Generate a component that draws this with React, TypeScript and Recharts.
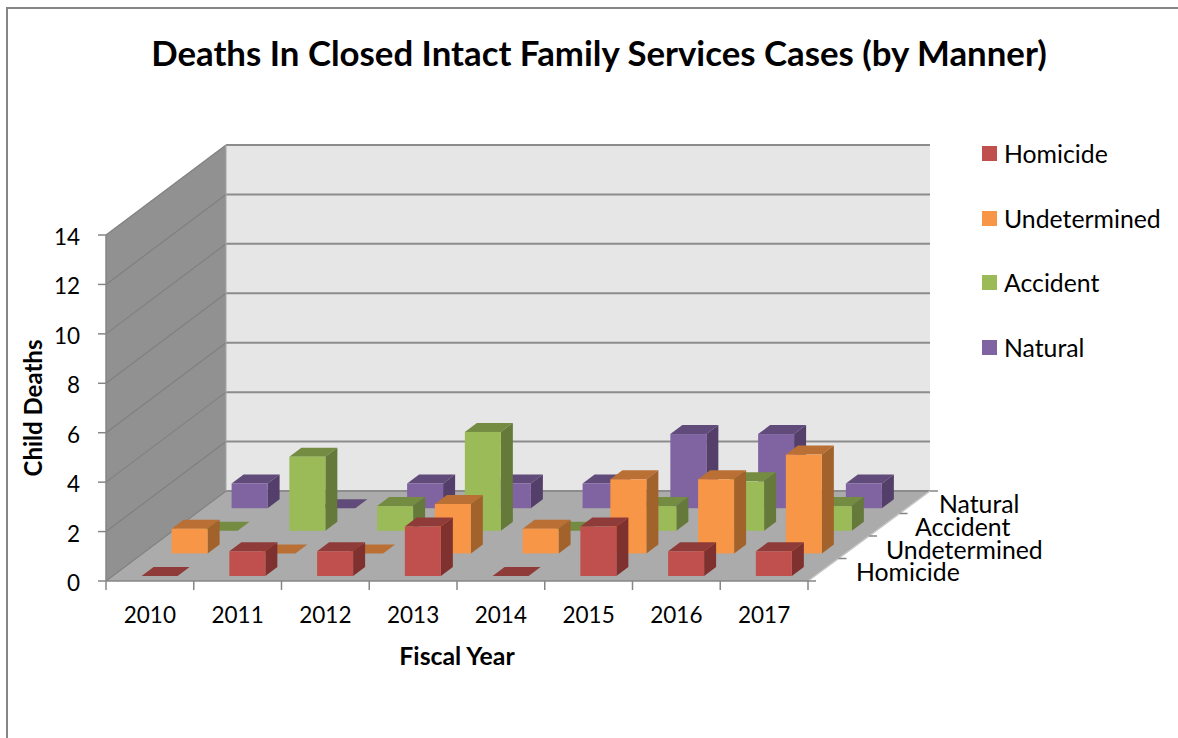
import { BarChart, Bar, XAxis, YAxis, Legend, usePlotArea } from 'recharts';

const years = ['2010', '2011', '2012', '2013', '2014', '2015', '2016', '2017'];
const homicide = [0, 1, 1, 2, 0, 2, 1, 1];
const undetermined = [1, 0, 0, 2, 1, 3, 3, 4];
const accident = [0, 3, 1, 4, 0, 1, 2, 1];
const natural = [1, 0, 1, 1, 1, 3, 3, 1];
const yTicks = [0, 2, 4, 6, 8, 10, 12, 14];

const seriesNames = ['Homicide', 'Undetermined', 'Accident', 'Natural'];
const seriesValues = [homicide, undetermined, accident, natural];
const frontColors = ['#c0504d', '#f79646', '#9bbb59', '#8064a2'];
const topColors = ['#8f3b39', '#ba7034', '#748c42', '#604b7a'];
const sideColors = ['#7f312f', '#a1622c', '#64793a', '#533f6a'];

const data = years.map((year, i) => {
    const row: Record<string, string | number> = { year };
    seriesNames.forEach((name, s) => { row[name] = seriesValues[s][i]; });
    return row;
});

const FONT = 'Lato, "Open Sans", sans-serif';
const AXIS = '#868686';
// how far the chart is pushed back, in px
const WALL_DX = 120;
const WALL_DY = 90;
const BLOCK_DX = 12;
const BLOCK_DY = 9;
const ROW_DX = 30;
const ROW_DY = 22.6;
const depthLabelX = [856, 886, 915, 939];
const depthLabelY = [571, 549, 526, 503];

function Block(props: any) {
    const { x, y, width: w, height: h, row } = props;
    const left = x + 9.6 + ROW_DX * row;
    const top = y - 5 - ROW_DY * row;
    const dx = BLOCK_DX;
    const dy = BLOCK_DY;
    return (
        <g>
            <polygon
                points={`${left},${top} ${left + dx},${top - dy} ${left + w + dx},${top - dy} ${left + w},${top}`}
                fill={topColors[row]}
            />
            <polygon
                points={`${left + w},${top} ${left + w + dx},${top - dy} ${left + w + dx},${top + h - dy} ${left + w},${top + h}`}
                fill={sideColors[row]}
            />
            <rect x={left} y={top} width={w} height={h} fill={frontColors[row]} stroke={h === 0 ? frontColors[row] : 'none'} strokeWidth={0.6} />
        </g>
    );
}

function Walls() {
    const plot = usePlotArea();
    if (!plot) return null;
    const x0 = plot.x;
    const x1 = plot.x + plot.width;
    const base = plot.y + plot.height;
    const unit = plot.height / 14;
    const band = plot.width / years.length;
    const backRight = x1 + 122;
    const depthSteps = seriesNames.map((_, i) => i);
    return (
        <g>
            <polygon
                points={`${x0},${plot.y} ${x0 + WALL_DX},${plot.y - WALL_DY} ${x0 + WALL_DX},${base - WALL_DY} ${x0},${base}`}
                fill="#919191"
            />
            <rect x={x0 + WALL_DX} y={plot.y - WALL_DY} width={backRight - x0 - WALL_DX} height={plot.height} fill="#e6e6e6" />
            <polygon
                points={`${x0},${base} ${x0 + WALL_DX},${base - WALL_DY} ${backRight},${base - WALL_DY} ${x1},${base}`}
                fill="#ababab"
            />
            {yTicks.map((t) => {
                const y = base - t * unit;
                return (
                    <g key={t}>
                        <line x1={x0} y1={y} x2={x0 + WALL_DX} y2={y - WALL_DY} stroke="#808080" strokeWidth={1.2} />
                        <line x1={x0 + WALL_DX} y1={y - WALL_DY} x2={backRight} y2={y - WALL_DY} stroke="#8c8c8c" strokeWidth={2} />
                    </g>
                );
            })}
            <line x1={x0 + WALL_DX} y1={plot.y - WALL_DY} x2={x0 + WALL_DX} y2={base - WALL_DY} stroke="#a6a6a6" strokeWidth={1} />
            <line x1={x1} y1={base} x2={backRight} y2={base - WALL_DY} stroke="#c4c4c4" strokeWidth={1.5} />
            {years.concat('end').map((y, i) => (
                <line key={y} x1={x0 + i * band} y1={base} x2={x0 + i * band} y2={base + 9} stroke={AXIS} strokeWidth={1.5} />
            ))}
            {[0, 1, 2, 3, 4].map((i) => {
                const tx = x1 + (i * 122) / 4;
                const ty = base - (i * WALL_DY) / 4;
                return <line key={i} x1={tx} y1={ty} x2={tx + 8} y2={ty} stroke={AXIS} strokeWidth={1.5} />;
            })}
            {depthSteps.map((i) => (
                <text key={i} x={depthLabelX[i]} y={depthLabelY[i]} fontFamily={FONT} fontSize={24.8} dominantBaseline="central" fill="#000">
                    {seriesNames[i]}
                </text>
            ))}
        </g>
    );
}

function ChartLegend() {
    return (
        <div style={{ fontFamily: FONT, fontSize: 24.8, color: '#000' }}>
            {seriesNames.map((name, i) => (
                <div key={name} style={{ display: 'flex', alignItems: 'center', height: 64.7 }}>
                    <span style={{ width: 15, height: 15, background: frontColors[i], marginRight: 7 }} />
                    <span>{name}</span>
                </div>
            ))}
        </div>
    );
}

export default function App() {
    return (
        <div style={{ position: 'absolute', left: 0, top: 0, width: 1178, height: 738, overflow: 'hidden', background: '#fff' }}>
            <div style={{ position: 'absolute', left: 6, top: 7, width: 1178, height: 738, borderLeft: `2px solid ${AXIS}`, borderTop: `2px solid ${AXIS}` }} />
            <div style={{ position: 'absolute', left: 100, top: 31, width: 998, textAlign: 'center', whiteSpace: 'nowrap', fontFamily: FONT, fontWeight: 700, fontSize: 34.8, lineHeight: '44px', color: '#000' }}>
                Deaths In Closed Intact Family Services Cases (by Manner)
            </div>
            <BarChart
                width={1178}
                height={738}
                data={data}
                barSize={36}
                barGap={-36}
                margin={{ top: 235, right: 370, bottom: 97, left: 46 }}
                style={{ position: 'absolute', left: 0, top: 0 }}
            >
                <Walls />
                <XAxis
                    dataKey="year"
                    height={60}
                    stroke={AXIS}
                    strokeWidth={1.5}
                    tickLine={false}
                    tickMargin={20}
                    interval={0}
                    tick={{ fill: '#000', fontFamily: FONT, fontSize: 22.5 }}
                    label={{ value: 'Fiscal Year', position: 'bottom', offset: 6, fill: '#000', fontFamily: FONT, fontSize: 24.8, fontWeight: 700 }}
                />
                <YAxis
                    width={60}
                    domain={[0, 14]}
                    ticks={yTicks}
                    interval={0}
                    stroke={AXIS}
                    strokeWidth={1.5}
                    tickSize={8}
                    tickMargin={18}
                    tick={{ fill: '#000', fontFamily: FONT, fontSize: 22.5, dy: 2 }}
                    label={{ value: 'Child Deaths', angle: -90, position: 'insideLeft', offset: -13, textAnchor: 'middle', fill: '#000', fontFamily: FONT, fontSize: 24, fontWeight: 700 }}
                />
                <Legend
                    layout="vertical"
                    align="center"
                    verticalAlign="middle"
                    wrapperStyle={{ left: 982, top: 121, width: 190 }}
                    content={() => <ChartLegend />}
                />
                {[3, 2, 1, 0].map((row) => (
                    <Bar
                        key={seriesNames[row]}
                        dataKey={seriesNames[row]}
                        fill={frontColors[row]}
                        isAnimationActive={false}
                        shape={(p: any) => <Block {...p} row={row} />}
                    />
                ))}
            </BarChart>
        </div>
    );
}
